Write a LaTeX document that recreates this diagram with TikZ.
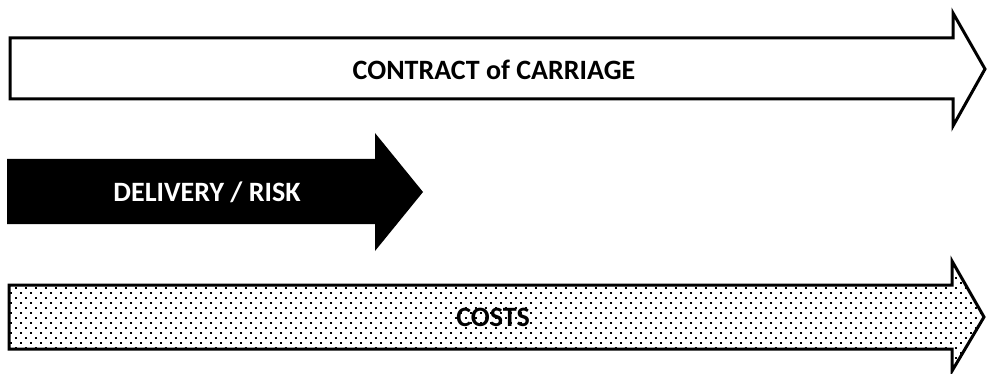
\documentclass[tikz,border=0pt]{standalone}
\usepackage{fontspec}
\setmainfont{Carlito}
\usepackage{tikz}
\usetikzlibrary{patterns}
\pgfdeclarepatternformonly{staggerdots}{\pgfqpoint{-1pt}{-1pt}}{\pgfqpoint{11pt}{11pt}}{\pgfqpoint{10pt}{10pt}}{%
  \pgfpathrectangle{\pgfqpoint{0pt}{0pt}}{\pgfqpoint{1.8pt}{1.8pt}}%
  \pgfpathrectangle{\pgfqpoint{5pt}{5pt}}{\pgfqpoint{1.8pt}{1.8pt}}%
  \pgfusepath{fill}}
\tikzset{
  openarrow/.style={draw=black, line width=3pt, fill=white, line join=miter},
  solidarrow/.style={fill=black},
  dotarrow/.style={draw=black, line width=3pt, pattern=staggerdots, line join=miter},
  barlabel/.style={font=\bfseries\fontsize{28}{32}\selectfont, inner sep=0pt}
}

\begin{document}
\begin{tikzpicture}[x=1pt, y=-1pt]
\useasboundingbox[fill=white] (0,0) rectangle (990,374);

% contract of carriage
\draw[openarrow] (10,38) -- (953,38) -- (953,13) -- (985,69) -- (953,126) -- (953,99) -- (10,99) -- cycle;
\node[barlabel] (contract) at (494,70) {CONTRACT of CARRIAGE};

% delivery / risk
\fill[solidarrow] (7,159) -- (375,159) -- (375,133) -- (423,192) -- (375,251) -- (375,224) -- (7,224) -- cycle;
\node[barlabel, text=white] (delivery) at (207,192) {DELIVERY / RISK};

% costs
\draw[dotarrow] (9,285) -- (952,285) -- (952,261) -- (984,317) -- (952,371) -- (952,349) -- (9,349) -- cycle;
\node[barlabel] (costs) at (493,317) {COSTS};
\end{tikzpicture}
\end{document}
